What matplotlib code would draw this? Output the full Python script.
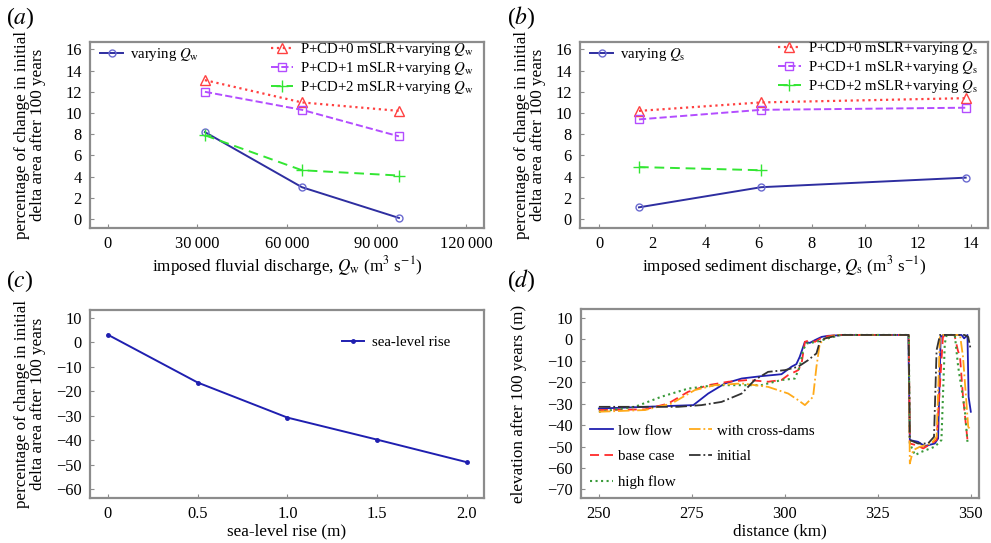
import matplotlib
matplotlib.use("Agg")
import matplotlib.pyplot as plt

plt.rcParams['font.family'] = ['Liberation Serif', 'DejaVu Serif']
plt.rcParams['mathtext.fontset'] = 'stix'

# ---- data ----
qw = [32500, 65000, 97500]
qw_vary = [8.2, 3.0, 0.1]
qw_cd0 = [13.1, 11.0, 10.2]
qw_cd1 = [12.0, 10.3, 7.8]
qw_cd2 = [7.9, 4.6, 4.1]

qs = [1.5, 6.1, 13.8]
qs_vary = [1.1, 3.0, 3.9]
qs_cd0 = [10.2, 11.0, 11.4]
qs_cd1 = [9.4, 10.3, 10.5]
qs2 = [1.5, 6.1]
qs_cd2 = [4.9, 4.6]

slr = [0, 0.5, 1.0, 1.5, 2.0]
slr_change = [3.0, -16.5, -30.8, -39.8, -49.0]

low_x = [250, 275.4, 279.4, 283.9, 288.4, 293.7, 299.1, 301.8, 303.1, 304.0, 305.4, 306.7, 308.1, 309.9,
         311.6, 316.1, 333.2, 333.6, 335.8, 337.6, 340.3, 341.2, 341.9, 342.6, 347.5, 348.2, 349.1, 349.4, 350]
low_y = [-32.3, -30.7, -25.3, -20.6, -18.3, -17.2, -16.3, -12.8, -11.6, -8.2, -1.2, -1.7, -0.4, 1.1,
         1.6, 2.0, 2.0, -47.0, -47.8, -49.8, -48.6, -46.3, 1.1, 2.0, 2.0, 0.4, 2.0, -26.8, -33.8]

base_x = [250, 262.4, 268.6, 274, 279.4, 284.8, 290.1, 295.5, 299.1, 300.9, 303.6, 304.5, 305.4, 306.7,
          308.1, 310.3, 314, 333.3, 333.6, 335.4, 337.2, 339.4, 340.8, 342.5, 343.4, 345.6, 346.5, 347.1,
          347.9, 349.1, 349.7]
base_y = [-33.0, -32.7, -30.0, -24.5, -21.4, -19.8, -19.0, -19.8, -19.0, -16.7, -14.4, -11.3, -1.2, -0.4,
          -1.2, 1.1, 2.0, 2.0, -48.6, -49.4, -50.9, -48.6, -47.0, 1.1, 2.0, 2.0, -5.1, -8.2,
          -26.8, -47.0, -47.8]

high_x = [250, 259.7, 266.8, 274, 281.2, 286.6, 293.7, 299.1, 302.7, 304, 304.9, 305.8, 308.5, 311.6,
          315, 333.3, 333.6, 335, 336.7, 340.3, 342.1, 343, 343.5, 345.7, 346.6, 348.4, 349.1]
high_y = [-33.8, -31.5, -26.8, -23.0, -21.4, -21.4, -21.4, -19.0, -18.3, -12.8, -5.1, -2.0, -1.2, 0.4,
          2.0, 2.0, -48.6, -54.0, -52.5, -50.1, -47.0, -2.0, 2.0, 2.0, -12.8, -33.0, -47.8]

cross_x = [250, 262.4, 269.5, 275.8, 281.2, 288.4, 295.5, 300.9, 303.6, 305.4, 307.6, 308.5, 309.4, 310.8,
           314, 333.3, 333.6, 334.5, 336.3, 339.4, 340.8, 341.7, 342.6, 347.1, 347.9, 349.3, 350]
cross_y = [-33.8, -33.0, -30.0, -23.7, -21.4, -20.6, -22.2, -25.3, -28.4, -30.7, -26.8, -12.8, -2.0, 0.4,
           2.0, 2.0, -57.9, -51.7, -50.1, -48.6, -45.5, 1.1, 2.0, 2.0, -8.2, -40.8, -42.4]

init_x = [250, 271.3, 277.6, 283, 288.4, 291.9, 295.5, 300, 303.6, 306.3, 308.5, 309.4, 310.8, 312.5,
          315, 333.3, 333.6, 335.8, 338.5, 340.1, 340.8, 341.7, 348.3, 349.3, 350]
init_y = [-31.5, -31.5, -30.7, -29.2, -25.3, -19.0, -15.2, -14.4, -12.8, -9.7, -6.6, -1.2, 0.4, 1.1,
          2.0, 2.0, -47.0, -48.6, -48.6, -45.5, -5.1, 2.0, 2.0, 1.1, -5.1]

W, H = 991, 543
fig = plt.figure(figsize=(W / 100, H / 100), dpi=100)

def box(l, t, r, b):
    return [l / W, 1 - b / H, (r - l) / W, (b - t) / H]

ax_a = fig.add_axes(box(90, 42, 484, 228))
ax_b = fig.add_axes(box(580, 42, 988, 228))
ax_c = fig.add_axes(box(90, 310, 484, 498))
ax_d = fig.add_axes(box(581, 309, 979, 498))

for ax in (ax_a, ax_b, ax_c, ax_d):
    for s in ax.spines.values():
        s.set_color('#8c8c8c')
        s.set_linewidth(1.6)
    ax.tick_params(direction='in', length=3, width=0.8, color='#8c8c8c', labelsize=11.8, pad=6,
                   top=False, right=False)

ylab = 'percentage of change in initial\ndelta area after 100 years'
lab_fs = 12.3
blue = '#2e2ea0'
red = '#ff4040'
purple = '#b34dff'
green = '#33e633'
leg_kw = dict(frameon=False, fontsize=10.7, handlelength=1.5, handletextpad=0.5, labelspacing=0.13,
              borderaxespad=0.3)

# (a)
l1, = ax_a.plot(qw, qw_vary, '-', color=blue, lw=1.4, marker='o', ms=5, mfc='none', mec='#6a6ad0')
l2, = ax_a.plot(qw, qw_cd0, ':', color=red, lw=1.6, marker='^', ms=7, mfc='none', mec=red)
l3, = ax_a.plot(qw, qw_cd1, '--', color=purple, lw=1.4, marker='s', ms=6, mfc='none', mec=purple)
l4, = ax_a.plot(qw, qw_cd2, '--', color=green, lw=1.4, marker='+', ms=9, mec=green, dashes=(5, 3))
ax_a.set_xlim(-6000, 126000)
ax_a.set_ylim(-0.85, 16.7)
ax_a.set_xticks([0, 30000, 60000, 90000, 120000])
ax_a.set_xticklabels(['0', '30\u2009000', '60\u2009000', '90\u2009000', '120\u2009000'])
ax_a.set_yticks(range(0, 17, 2))
ax_a.set_xlabel(r'imposed fluvial discharge, $Q_{\mathrm{w}}$ (m$^3$ s$^{-1}$)', fontsize=lab_fs, labelpad=1)
ax_a.set_ylabel(ylab, fontsize=lab_fs, linespacing=1.0)
ax_a.yaxis.set_label_coords(-0.112, 0.5)
lg = ax_a.legend([l1], [r'varying $Q_{\mathrm{w}}$'], loc='upper left', bbox_to_anchor=(0, 1.032), **leg_kw)
ax_a.add_artist(lg)
ax_a.legend([l2, l3, l4], [r'P+CD+0 mSLR+varying $Q_{\mathrm{w}}$', r'P+CD+1 mSLR+varying $Q_{\mathrm{w}}$',
                           r'P+CD+2 mSLR+varying $Q_{\mathrm{w}}$'], loc='upper right',
            bbox_to_anchor=(1.0, 1.059), **leg_kw)

# (b)
m1, = ax_b.plot(qs, qs_vary, '-', color=blue, lw=1.4, marker='o', ms=5, mfc='none', mec='#6a6ad0')
m2, = ax_b.plot(qs, qs_cd0, ':', color=red, lw=1.6, marker='^', ms=7, mfc='none', mec=red)
m3, = ax_b.plot(qs, qs_cd1, '--', color=purple, lw=1.4, marker='s', ms=6, mfc='none', mec=purple)
m4, = ax_b.plot(qs2, qs_cd2, '--', color=green, lw=1.4, marker='+', ms=9, mec=green, dashes=(5, 3))
ax_b.set_xlim(-0.72, 14.64)
ax_b.set_ylim(-0.85, 16.7)
ax_b.set_xticks(range(0, 15, 2))
ax_b.set_yticks(range(0, 17, 2))
ax_b.set_xlabel(r'imposed sediment discharge, $Q_{\mathrm{s}}$ (m$^3$ s$^{-1}$)', fontsize=lab_fs, labelpad=1)
ax_b.set_ylabel(ylab, fontsize=lab_fs, linespacing=1.0)
ax_b.yaxis.set_label_coords(-0.083, 0.5)
lg = ax_b.legend([m1], [r'varying $Q_{\mathrm{s}}$'], loc='upper left', bbox_to_anchor=(0, 1.032), **leg_kw)
ax_b.add_artist(lg)
ax_b.legend([m2, m3, m4], [r'P+CD+0 mSLR+varying $Q_{\mathrm{s}}$', r'P+CD+1 mSLR+varying $Q_{\mathrm{s}}$',
                           r'P+CD+2 mSLR+varying $Q_{\mathrm{s}}$'], loc='upper right',
            bbox_to_anchor=(1.0, 1.064), **leg_kw)

# (c)
ax_c.plot(slr, slr_change, '-', color='#1f1fb0', lw=1.4, marker='o', ms=2.5, label='sea-level rise')
ax_c.set_xlim(-0.1, 2.095)
ax_c.set_ylim(-63.6, 13.1)
ax_c.set_xticks([0, 0.5, 1.0, 1.5, 2.0])
ax_c.set_xticklabels(['0', '0.5', '1.0', '1.5', '2.0'])
ax_c.set_yticks(range(-60, 11, 10))
ax_c.set_xlabel('sea-level rise (m)', fontsize=lab_fs, labelpad=1)
ax_c.set_ylabel(ylab, fontsize=lab_fs, linespacing=1.0)
ax_c.yaxis.set_label_coords(-0.112, 0.5)
ax_c.legend(loc='upper right', bbox_to_anchor=(0.94, 0.92), **leg_kw)

# (d)
d1, = ax_d.plot(low_x, low_y, '-', color='#2020b0', lw=1.3)
d2, = ax_d.plot(base_x, base_y, '--', color='#ff2a2a', lw=1.3, dashes=(5, 3))
d3, = ax_d.plot(high_x, high_y, ':', color='#3a9a3a', lw=1.5)
d4, = ax_d.plot(cross_x, cross_y, '-.', color='#ffaa1a', lw=1.3)
d5, = ax_d.plot(init_x, init_y, '-.', color='#333333', lw=1.3)
ax_d.set_xlim(245.2, 352.2)
ax_d.set_ylim(-74, 14.1)
ax_d.set_xticks([250, 275, 300, 325, 350])
ax_d.set_yticks(range(-70, 11, 10))
ax_d.set_xlabel('distance (km)', fontsize=lab_fs, labelpad=1)
ax_d.set_ylabel('elevation after 100 years (m)', fontsize=lab_fs)
ax_d.yaxis.set_label_coords(-0.135, 0.5)
ax_d.legend([d1, d2, d3, d4, d5], ['low flow', 'base case', 'high flow', 'with cross-dams', 'initial'],
            loc='lower left', ncol=2, frameon=False, fontsize=10.8, handlelength=1.5, handletextpad=0.35,
            labelspacing=0.8, columnspacing=0.9, borderaxespad=0.2)

# panel letters
for x, y, s in [(6, 18, '(a)'), (507, 18, '(b)'), (6, 281, '(c)'), (507, 281, '(d)')]:
    fig.text(x / W, 1 - y / H, s.replace(s[1], '$' + s[1] + '$'), fontsize=17, va='center', ha='left')

fig.savefig('out.png', dpi=100)
